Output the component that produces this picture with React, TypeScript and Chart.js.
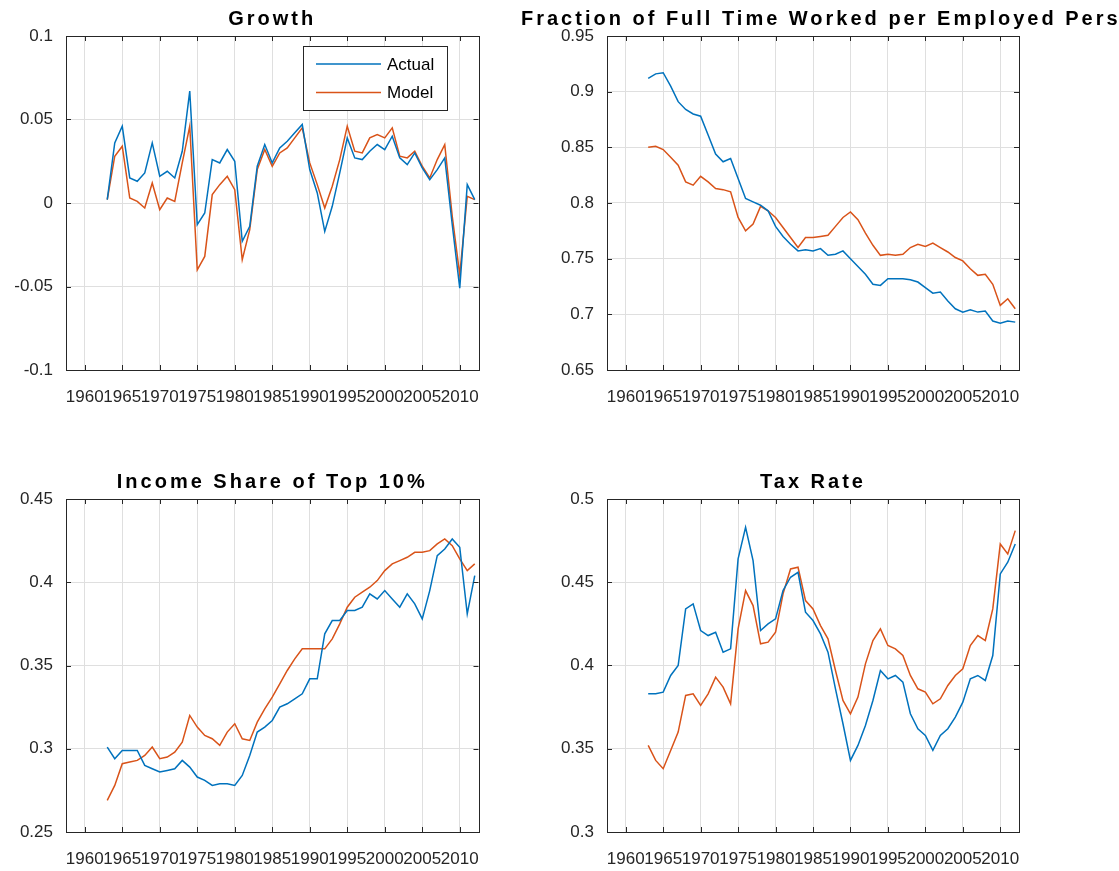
import React, { useEffect, useRef } from 'react';
import { Chart, registerables } from 'chart.js';

Chart.register(...registerables);

// ---------------- data ----------------
const years = [
  1963, 1964, 1965, 1966, 1967, 1968, 1969, 1970, 1971, 1972,
  1973, 1974, 1975, 1976, 1977, 1978, 1979, 1980, 1981, 1982,
  1983, 1984, 1985, 1986, 1987, 1988, 1989, 1990, 1991, 1992,
  1993, 1994, 1995, 1996, 1997, 1998, 1999, 2000, 2001, 2002,
  2003, 2004, 2005, 2006, 2007, 2008, 2009, 2010, 2011, 2012,
];

const xTickValues = [1960, 1965, 1970, 1975, 1980, 1985, 1990, 1995, 2000, 2005, 2010];

const seriesLabels = ['Actual', 'Model'];

const growthActual = [
  0.002, 0.036, 0.046, 0.015, 0.013, 0.018, 0.036, 0.016, 0.019, 0.015,
  0.031, 0.067, -0.013, -0.006, 0.026, 0.024, 0.032, 0.025, -0.023, -0.014,
  0.022, 0.035, 0.024, 0.033, 0.037, 0.042, 0.047, 0.020, 0.006, -0.017,
  -0.002, 0.018, 0.039, 0.027, 0.026, 0.031, 0.035, 0.032, 0.040, 0.027,
  0.023, 0.030, 0.021, 0.014, 0.020, 0.027, -0.013, -0.051, 0.011, 0.002,
];
const growthModel = [
  0.002, 0.028, 0.034, 0.003, 0.001, -0.003, 0.012, -0.004, 0.003, 0.001,
  0.024, 0.046, -0.040, -0.032, 0.005, 0.011, 0.016, 0.008, -0.034, -0.016,
  0.020, 0.032, 0.022, 0.030, 0.033, 0.039, 0.045, 0.024, 0.011, -0.003,
  0.010, 0.026, 0.046, 0.031, 0.030, 0.039, 0.041, 0.039, 0.045, 0.028,
  0.027, 0.031, 0.022, 0.015, 0.026, 0.035, -0.008, -0.043, 0.004, 0.002,
];

const fractionActual = [
  0.912, 0.916, 0.917, 0.905, 0.891, 0.884, 0.880, 0.878, 0.861, 0.844,
  0.837, 0.840, 0.822, 0.804, 0.801, 0.798, 0.793, 0.779, 0.770, 0.763,
  0.757, 0.758, 0.757, 0.759, 0.753, 0.754, 0.757, 0.750, 0.743, 0.736,
  0.727, 0.726, 0.732, 0.732, 0.732, 0.731, 0.729, 0.724, 0.719, 0.720,
  0.712, 0.705, 0.702, 0.704, 0.702, 0.703, 0.694, 0.692, 0.694, 0.693,
];
const fractionModel = [
  0.850, 0.851, 0.848, 0.841, 0.834, 0.819, 0.816, 0.824, 0.819, 0.813,
  0.812, 0.810, 0.787, 0.775, 0.781, 0.797, 0.793, 0.787, 0.778, 0.769,
  0.760, 0.769, 0.769, 0.770, 0.771, 0.779, 0.787, 0.792, 0.785, 0.773,
  0.762, 0.753, 0.754, 0.753, 0.754, 0.760, 0.763, 0.761, 0.764, 0.760,
  0.756, 0.751, 0.748, 0.741, 0.735, 0.736, 0.727, 0.708, 0.714, 0.705,
];

const incomeActual = [
  0.301, 0.294, 0.299, 0.299, 0.299, 0.290, 0.288, 0.286, 0.287, 0.288,
  0.293, 0.289, 0.283, 0.281, 0.278, 0.279, 0.279, 0.278, 0.284, 0.296,
  0.310, 0.313, 0.317, 0.325, 0.327, 0.330, 0.333, 0.342, 0.342, 0.369,
  0.377, 0.377, 0.383, 0.383, 0.385, 0.393, 0.390, 0.395, 0.390, 0.385,
  0.393, 0.387, 0.378, 0.395, 0.416, 0.420, 0.426, 0.421, 0.381, 0.404,
];
const incomeModel = [
  0.269, 0.278, 0.291, 0.292, 0.293, 0.296, 0.301, 0.294, 0.295, 0.298,
  0.304, 0.320, 0.313, 0.308, 0.306, 0.302, 0.310, 0.315, 0.306, 0.305,
  0.316, 0.324, 0.331, 0.339, 0.347, 0.354, 0.360, 0.360, 0.360, 0.360,
  0.366, 0.375, 0.385, 0.391, 0.394, 0.397, 0.401, 0.407, 0.411, 0.413,
  0.415, 0.418, 0.418, 0.419, 0.423, 0.426, 0.422, 0.414, 0.407, 0.411,
];

const taxActual = [
  0.383, 0.383, 0.384, 0.394, 0.400, 0.434, 0.437, 0.421, 0.418, 0.420,
  0.408, 0.410, 0.464, 0.483, 0.463, 0.421, 0.425, 0.428, 0.445, 0.453,
  0.456, 0.432, 0.427, 0.419, 0.408, 0.386, 0.365, 0.343, 0.352, 0.364,
  0.379, 0.397, 0.392, 0.394, 0.390, 0.371, 0.362, 0.358, 0.349, 0.358,
  0.362, 0.369, 0.378, 0.392, 0.394, 0.391, 0.406, 0.455, 0.462, 0.473,
];
const taxModel = [
  0.352, 0.343, 0.338, 0.349, 0.360, 0.382, 0.383, 0.376, 0.383, 0.393,
  0.387, 0.377, 0.422, 0.445, 0.436, 0.413, 0.414, 0.420, 0.443, 0.458,
  0.459, 0.439, 0.434, 0.424, 0.416, 0.397, 0.379, 0.371, 0.381, 0.401,
  0.415, 0.422, 0.412, 0.410, 0.406, 0.394, 0.386, 0.384, 0.377, 0.380,
  0.388, 0.394, 0.398, 0.412, 0.418, 0.415, 0.434, 0.473, 0.467, 0.481,
];

const growthYTicks = [-0.1, -0.05, 0, 0.05, 0.1];
const fractionYTicks = [0.65, 0.7, 0.75, 0.8, 0.85, 0.9, 0.95];
const incomeYTicks = [0.25, 0.3, 0.35, 0.4, 0.45];
const taxYTicks = [0.3, 0.35, 0.4, 0.45, 0.5];

const panelTitles = [
  'Growth',
  'Fraction of Full Time Worked per Employed Person',
  'Income Share of Top 10%',
  'Tax Rate',
];

// ---------------- style ----------------
const FONT = '"Liberation Sans", Arial, Helvetica, sans-serif';
const BLUE = '#0072BD';
const ORANGE = '#D95319';
const AXIS = '#262626';
const GRID = 'rgb(223,223,223)';
const X_MIN = 1957.5;
const X_MAX = 2012.5;

const decorPlugin = {
  id: 'matlabDecor',
  afterDatasetsDraw(chart: any, _args: any, opts: any) {
    const { ctx, chartArea } = chart;
    const { left, right, top, bottom } = chartArea;
    const xs = chart.scales.x;
    const ys = chart.scales.y;
    const tl = 5;
    ctx.save();
    ctx.strokeStyle = AXIS;
    ctx.lineWidth = 1;
    ctx.beginPath();
    xs.ticks.forEach((t: any) => {
      const px = Math.round(xs.getPixelForValue(t.value)) + 0.5;
      ctx.moveTo(px, bottom);
      ctx.lineTo(px, bottom - tl);
      ctx.moveTo(px, top);
      ctx.lineTo(px, top + tl);
    });
    ys.ticks.forEach((t: any) => {
      const py = Math.round(ys.getPixelForValue(t.value)) + 0.5;
      ctx.moveTo(left, py);
      ctx.lineTo(left + tl, py);
      ctx.moveTo(right, py);
      ctx.lineTo(right - tl, py);
    });
    ctx.stroke();
    ctx.strokeRect(Math.round(left) + 0.5, Math.round(top) + 0.5, Math.round(right - left), Math.round(bottom - top));

    // title
    ctx.fillStyle = '#000';
    ctx.font = `bold 20px ${FONT}`;
    try { (ctx as any).letterSpacing = '3px'; } catch (e) {}
    ctx.textAlign = 'center';
    ctx.textBaseline = 'alphabetic';
    ctx.fillText(opts.text, (left + right) / 2 + (opts.offsetX || 0), top - 11);
    try { (ctx as any).letterSpacing = '0px'; } catch (e) {}

    // legend
    if (opts.legend) {
      const bx = left + 237;
      const by = top + 10;
      const bw = 144;
      const bh = 64;
      ctx.fillStyle = '#fff';
      ctx.fillRect(bx, by, bw, bh);
      ctx.strokeStyle = AXIS;
      ctx.strokeRect(Math.round(bx) + 0.5, Math.round(by) + 0.5, bw, bh);
      ctx.font = `17px ${FONT}`;
      ctx.textAlign = 'left';
      ctx.textBaseline = 'middle';
      chart.data.datasets.forEach((ds: any, i: number) => {
        const ly = by + 18 + i * 28.5;
        ctx.strokeStyle = ds.borderColor;
        ctx.lineWidth = 1.5;
        ctx.beginPath();
        ctx.moveTo(bx + 13, ly);
        ctx.lineTo(bx + 78, ly);
        ctx.stroke();
        ctx.fillStyle = '#000';
        ctx.fillText(ds.label, bx + 84, ly + 1);
      });
    }
    ctx.restore();
  },
};

type PanelSpec = {
  title: string;
  actual: number[];
  model: number[];
  yTicks: number[];
  legend: boolean;
  left: number;
  top: number;
  width: number;
  height: number;
  chartLeft: number;
  chartTop: number;
  chartRight: number;
  chartBottom: number;
  titleOffset: number;
};

function Panel({ spec }: { spec: PanelSpec }) {
  const ref = useRef<HTMLCanvasElement | null>(null);
  useEffect(() => {
    if (!ref.current) return;
    const s = spec;
    const yMin = s.yTicks[0];
    const yMax = s.yTicks[s.yTicks.length - 1];
    const tickFont = { family: FONT, size: 17 };
    const chart = new Chart(ref.current, {
      type: 'line',
      data: {
        datasets: [
          {
            label: seriesLabels[0],
            data: years.map((x, i) => ({ x, y: s.actual[i] })),
            borderColor: BLUE,
            backgroundColor: BLUE,
            borderWidth: 1.5,
            pointRadius: 0,
            tension: 0,
            fill: false,
          },
          {
            label: seriesLabels[1],
            data: years.map((x, i) => ({ x, y: s.model[i] })),
            borderColor: ORANGE,
            backgroundColor: ORANGE,
            borderWidth: 1.5,
            pointRadius: 0,
            tension: 0,
            fill: false,
          },
        ],
      },
      options: {
        responsive: false,
        animation: false,
        devicePixelRatio: 1,
        layout: {
          padding: { left: 0, top: s.chartTop, right: s.width - s.chartRight, bottom: 0 },
        },
        plugins: {
          legend: { display: false },
          title: { display: false },
          tooltip: { enabled: false },
          matlabDecor: { text: s.title, offsetX: s.titleOffset, legend: s.legend },
        } as any,
        scales: {
          x: {
            type: 'linear',
            min: X_MIN,
            max: X_MAX,
            afterBuildTicks: (scale: any) => {
              scale.ticks = xTickValues.map((v) => ({ value: v }));
            },
            afterFit: (scale: any) => {
              scale.height = s.height - s.chartBottom;
            },
            grid: { color: GRID, lineWidth: 1, drawTicks: false },
            border: { display: false },
            ticks: {
              autoSkip: false,
              maxRotation: 0,
              minRotation: 0,
              includeBounds: false,
              padding: 17,
              color: AXIS,
              font: tickFont,
              callback: (v: any) => String(v),
            },
          },
          y: {
            type: 'linear',
            min: yMin,
            max: yMax,
            afterBuildTicks: (scale: any) => {
              scale.ticks = s.yTicks.map((v) => ({ value: v }));
            },
            afterFit: (scale: any) => {
              scale.width = s.chartLeft;
            },
            grid: { color: GRID, lineWidth: 1, drawTicks: false },
            border: { display: false },
            ticks: {
              autoSkip: false,
              includeBounds: false,
              padding: 13,
              color: AXIS,
              font: tickFont,
              callback: (v: any) => String(v),
            },
          },
        },
      } as any,
      plugins: [decorPlugin],
    });
    return () => chart.destroy();
  }, [spec]);

  return (
    <canvas
      ref={ref}
      width={spec.width}
      height={spec.height}
      style={{
        position: 'absolute',
        left: spec.left,
        top: spec.top,
        width: spec.width,
        height: spec.height,
      }}
    />
  );
}

const panels: PanelSpec[] = [
  {
    title: panelTitles[0], actual: growthActual, model: growthModel, yTicks: growthYTicks, legend: true,
    left: 0, top: 0, width: 500, height: 430, chartLeft: 66, chartTop: 36, chartRight: 478.5, chartBottom: 370, titleOffset: 0,
  },
  {
    title: panelTitles[1], actual: fractionActual, model: fractionModel, yTicks: fractionYTicks, legend: false,
    left: 500, top: 0, width: 619, height: 430, chartLeft: 107, chartTop: 36, chartRight: 519, chartBottom: 370, titleOffset: 23,
  },
  {
    title: panelTitles[2], actual: incomeActual, model: incomeModel, yTicks: incomeYTicks, legend: false,
    left: 0, top: 430, width: 500, height: 441, chartLeft: 66, chartTop: 69, chartRight: 478.5, chartBottom: 402, titleOffset: 0,
  },
  {
    title: panelTitles[3], actual: taxActual, model: taxModel, yTicks: taxYTicks, legend: false,
    left: 500, top: 430, width: 619, height: 441, chartLeft: 107, chartTop: 69, chartRight: 519, chartBottom: 402, titleOffset: 0,
  },
];

export default function App() {
  return (
    <div
      style={{
        position: 'absolute',
        left: 0,
        top: 0,
        width: 1119,
        height: 871,
        background: '#fff',
        overflow: 'hidden',
      }}
    >
      {panels.map((p, i) => (
        <Panel key={i} spec={p} />
      ))}
    </div>
  );
}
